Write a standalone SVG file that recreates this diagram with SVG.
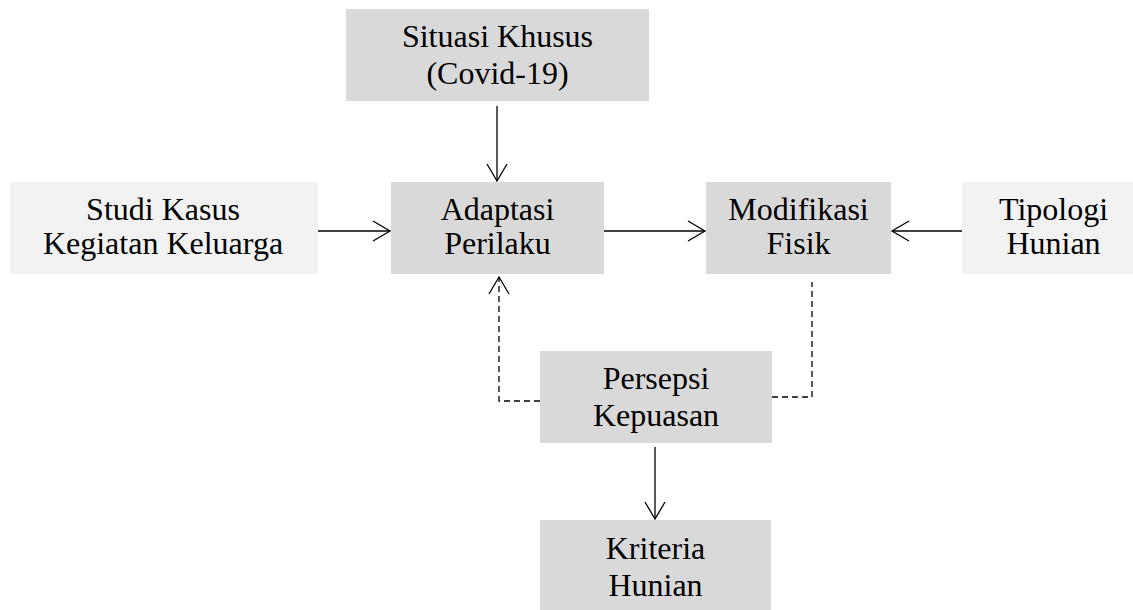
<svg xmlns="http://www.w3.org/2000/svg" width="1133" height="610" viewBox="0 0 1133 610">
<defs>
<style>
.dark{fill:#d9d9d9}
.light{fill:#f2f2f2}
text{font-family:"Liberation Serif","Times New Roman",serif;font-size:32px;fill:#000;text-anchor:middle}
.ln{stroke:#000;stroke-width:1.3;fill:none}
.dash{stroke-dasharray:6 4}
</style>
<marker id="ah" markerUnits="userSpaceOnUse" markerWidth="24" markerHeight="24" viewBox="-20 -12 24 24" refX="0" refY="0" orient="auto">
<path d="M-17,-10 L0,0 L-17,10" fill="none" stroke="#000" stroke-width="1.3"/>
</marker>
</defs>
<rect width="1133" height="610" fill="#fff"/>
<g id="situasi"><rect class="dark" x="346" y="9" width="303" height="92"/><text x="497.5" y="47">Situasi Khusus</text><text x="497.5" y="84">(Covid-19)</text></g>
<g id="studi"><rect class="light" x="10" y="182" width="308" height="92"/><text x="163" y="220">Studi Kasus</text><text x="163" y="254">Kegiatan Keluarga</text></g>
<g id="adaptasi"><rect class="dark" x="391" y="182" width="213" height="92"/><text x="497.5" y="220">Adaptasi</text><text x="497.5" y="254">Perilaku</text></g>
<g id="modifikasi"><rect class="dark" x="706" y="182" width="185" height="92"/><text x="798.5" y="220">Modifikasi</text><text x="798.5" y="254">Fisik</text></g>
<g id="tipologi"><rect class="light" x="962" y="182" width="171" height="92"/><text x="1053.5" y="220">Tipologi</text><text x="1053.5" y="254">Hunian</text></g>
<g id="persepsi"><rect class="dark" x="540" y="351" width="232" height="92"/><text x="656" y="389">Persepsi</text><text x="656" y="426">Kepuasan</text></g>
<g id="kriteria"><rect class="dark" x="540" y="520" width="231" height="90"/><text x="655.5" y="559">Kriteria</text><text x="655.5" y="596">Hunian</text></g>
<g id="connectors">
<line class="ln" x1="497" y1="106" x2="497" y2="181" marker-end="url(#ah)"/>
<line class="ln" x1="318" y1="231" x2="390" y2="231" marker-end="url(#ah)"/>
<line class="ln" x1="604" y1="231" x2="705" y2="231" marker-end="url(#ah)"/>
<line class="ln" x1="962" y1="231" x2="892" y2="231" marker-end="url(#ah)"/>
<polyline class="ln dash" points="540,401 499,401 499,277" marker-end="url(#ah)"/>
<polyline class="ln dash" points="772,397 812,397 812,282"/>
<line class="ln" x1="655" y1="447" x2="655" y2="519" marker-end="url(#ah)"/>
</g>
</svg>
